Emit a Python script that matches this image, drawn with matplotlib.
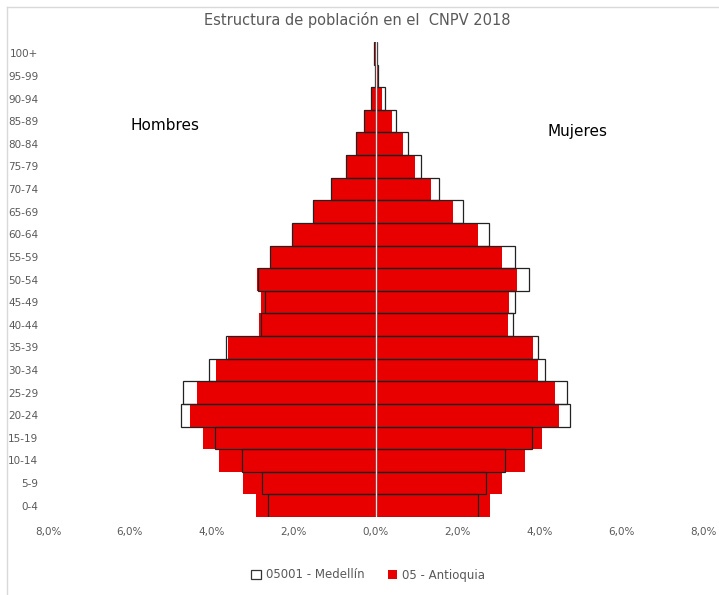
import matplotlib.pyplot as plt
from matplotlib.patches import Patch
from matplotlib.lines import Line2D

grupos = ['0-4', '5-9', '10-14', '15-19', '20-24', '25-29', '30-34', '35-39',
          '40-44', '45-49', '50-54', '55-59', '60-64', '65-69', '70-74', '75-79',
          '80-84', '85-89', '90-94', '95-99', '100+']

# porcentajes (%)
hombres_antioquia = [2.92, 3.23, 3.83, 4.22, 4.52, 4.37, 3.89, 3.61, 2.85, 2.79, 2.89,
                     2.57, 2.02, 1.52, 1.08, 0.73, 0.47, 0.27, 0.11, 0.02, 0.01]
hombres_medellin = [2.62, 2.77, 3.25, 3.91, 4.76, 4.70, 4.06, 3.64, 2.79, 2.69, 2.86,
                    2.58, 2.03, 1.53, 1.08, 0.73, 0.47, 0.27, 0.12, 0.02, 0.04]
mujeres_antioquia = [2.80, 3.09, 3.66, 4.07, 4.49, 4.38, 3.98, 3.85, 3.24, 3.27, 3.45,
                     3.10, 2.51, 1.89, 1.36, 0.96, 0.66, 0.40, 0.16, 0.05, 0.01]
mujeres_medellin = [2.51, 2.69, 3.17, 3.82, 4.76, 4.67, 4.14, 3.96, 3.37, 3.41, 3.74,
                    3.40, 2.77, 2.13, 1.56, 1.12, 0.79, 0.49, 0.22, 0.07, 0.04]

ticks_x = [-8, -6, -4, -2, 0, 2, 4, 6, 8]

rojo = '#e80000'
gris = '#595959'

fig = plt.figure(figsize=(7.19, 5.95), dpi=100)
ax = fig.add_axes([48 / 719, 78 / 595, 655 / 719, 475 / 595])

y = list(range(len(grupos)))
ax.barh(y, [-v for v in hombres_antioquia], height=1.0, color=rojo, zorder=2)
ax.barh(y, mujeres_antioquia, height=1.0, color=rojo, zorder=2)
ax.barh(y, [-v for v in hombres_medellin], height=1.0, facecolor='none',
        edgecolor='#222222', linewidth=0.9, zorder=3)
ax.barh(y, mujeres_medellin, height=1.0, facecolor='none',
        edgecolor='#222222', linewidth=0.9, zorder=3)
ax.axvline(0, color='#e6e6e6', linewidth=1, zorder=4)

ax.set_xlim(-8, 8)
ax.set_ylim(-0.5, len(grupos) - 0.5)
ax.set_xticks(ticks_x)
ax.set_xticklabels([('%.1f%%' % abs(t)).replace('.', ',') for t in ticks_x])
ax.set_yticks(y)
ax.set_yticklabels(grupos)
ax.tick_params(axis='both', length=0, colors=gris, labelsize=7.5)
ax.tick_params(axis='y', pad=7)
ax.tick_params(axis='x', pad=7)
for s in ax.spines.values():
    s.set_visible(False)

ax.text(-5.13, 16.8, 'Hombres', fontsize=11, ha='center', va='center', color='black')
ax.text(4.94, 16.55, 'Mujeres', fontsize=11, ha='center', va='center', color='black')

fig.text(0.497, 1 - 20 / 595, 'Estructura de población en el  CNPV 2018',
         fontsize=10.5, color=gris, ha='center', va='center')

handles = [Patch(facecolor='white', edgecolor='#333333', linewidth=0.9),
           Patch(facecolor=rojo, edgecolor='none')]
fig.legend(handles, ['05001 - Medellín', '05 - Antioquia'], loc='center',
           bbox_to_anchor=(0.512, 1 - 575 / 595), ncol=2, frameon=False,
           fontsize=8.5, labelcolor=gris, handlelength=0.8, handleheight=0.8,
           handletextpad=0.4, columnspacing=2.0)

# borde del área del gráfico
fig.add_artist(Line2D([7 / 719, 7 / 719], [0, 1 - 7 / 595], color='#d9d9d9', lw=1))
fig.add_artist(Line2D([7 / 719, 1], [1 - 7 / 595, 1 - 7 / 595], color='#d9d9d9', lw=1))

fig.savefig('out.png', dpi=100)
